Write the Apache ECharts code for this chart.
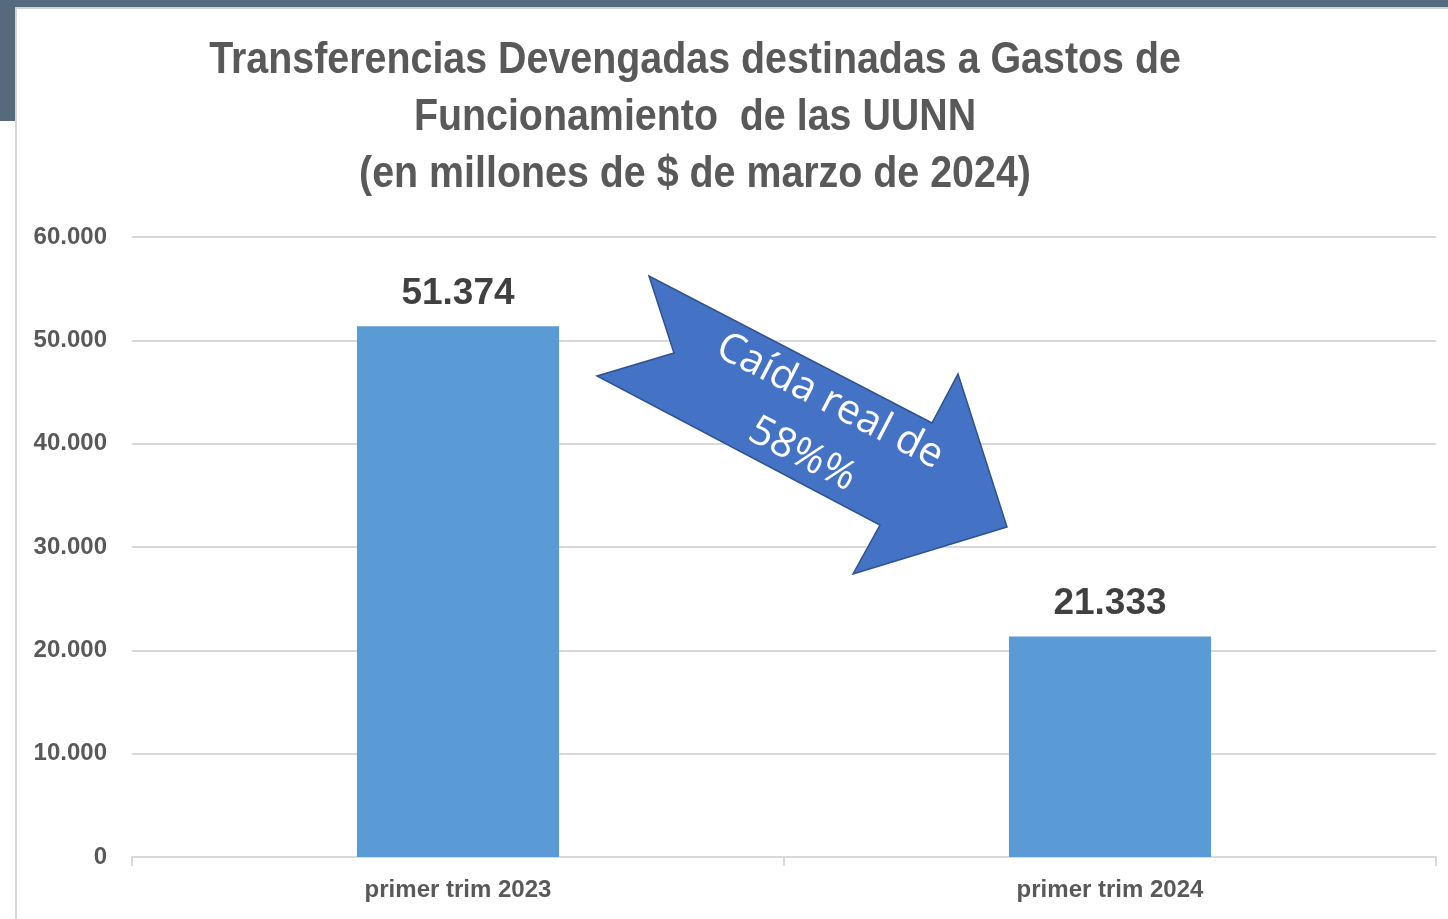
<!DOCTYPE html>
<html>
<head>
<meta charset="utf-8">
<title>Transferencias Devengadas</title>
<script src="https://cdn.jsdelivr.net/npm/echarts@6/dist/echarts.min.js"></script>
<style>
  html, body { margin: 0; padding: 0; background: #fff; }
  #main { width: 1448px; height: 919px; }
</style>
</head>
<body>
<div id="main"></div>
<script>
// ---------- data ----------
var categories = ["primer trim 2023", "primer trim 2024"];
var values = [51374, 21333];
var titleLines = [
  "Transferencias Devengadas destinadas a Gastos de",
  "Funcionamiento  de las UUNN",
  "(en millones de $ de marzo de 2024)"
];
var arrowText = ["Caída real de", "58%%"];

// numbers like 51.374 (es-AR)
function fmt(v) {
  return String(v).replace(/\B(?=(\d{3})+(?!\d))/g, ".");
}

var chart = echarts.init(document.getElementById("main"));
var font = "'Liberation Sans', Arial, sans-serif";

// title drawn as graphic text so it can be squeezed a bit (tight tracking)
var titleGraphics = titleLines.map(function (t, i) {
  return {
    type: "text",
    x: 695,
    y: 83 + i * 57,
    scaleX: 0.875,
    style: {
      text: t,
      fill: "#595959",
      font: "bold 45px " + font,
      textAlign: "center",
      textVerticalAlign: "bottom"
    },
    z: 10
  };
});

var option = {
  animation: false,
  backgroundColor: "#ffffff",
  grid: { left: 132, right: 12, top: 237, bottom: 62 },
  xAxis: {
    type: "category",
    data: categories,
    axisLine: { lineStyle: { color: "#d9d9d9", width: 2 } },
    axisTick: { show: true, length: 9, lineStyle: { color: "#d9d9d9", width: 2 } },
    axisLabel: {
      color: "#595959",
      fontFamily: font,
      fontWeight: "bold",
      fontSize: 24,
      margin: 21
    }
  },
  yAxis: {
    type: "value",
    min: 0,
    max: 60000,
    interval: 10000,
    axisLine: { show: false },
    axisTick: { show: false },
    splitLine: { lineStyle: { color: "#d9d9d9", width: 2 } },
    axisLabel: {
      color: "#595959",
      fontFamily: font,
      fontWeight: "bold",
      fontSize: 24,
      margin: 25,
      formatter: function (v) { return fmt(v); }
    }
  },
  series: [{
    type: "bar",
    data: values,
    barWidth: "31%",
    itemStyle: { color: "#5b9bd5" },
    label: {
      show: true,
      position: "top",
      distance: 14,
      color: "#404040",
      fontFamily: font,
      fontWeight: "bold",
      fontSize: 37,
      formatter: function (p) { return fmt(p.value); }
    }
  }],
  graphic: [
    // slide background edges
    { type: "rect", shape: { x: 0, y: 0, width: 1448, height: 7 }, style: { fill: "#566a7e" }, z: 1 },
    { type: "rect", shape: { x: 0, y: 0, width: 15, height: 121 }, style: { fill: "#566a7e" }, z: 1 },
    { type: "rect", shape: { x: 15, y: 7, width: 1433, height: 2 }, style: { fill: "#cfd3d8" }, z: 1 },
    { type: "rect", shape: { x: 15, y: 7, width: 2, height: 912 }, style: { fill: "#d6d6d6" }, z: 1 },
    // arrow
    {
      type: "polygon",
      shape: {
        points: [[649, 276], [674, 353], [597, 376], [880, 525], [853, 574], [1007, 527], [958, 374], [932, 423]]
      },
      style: { fill: "#4472c4", stroke: "#2f528f", lineWidth: 1.5 },
      z: 20
    },
    {
      type: "group",
      x: 816,
      y: 428,
      rotation: -27.4 * Math.PI / 180,
      z: 21,
      children: arrowText.map(function (t, i) {
        return {
          type: "text",
          x: 0,
          y: (i - 0.5) * 60,
          z: 21,
          style: {
            text: t,
            fill: "#ffffff",
            font: "41px 'Open Sans', 'Noto Sans', sans-serif",
            textAlign: "center",
            textVerticalAlign: "middle"
          }
        };
      })
    }
  ].concat(titleGraphics)
};

chart.setOption(option);
</script>
</body>
</html>
